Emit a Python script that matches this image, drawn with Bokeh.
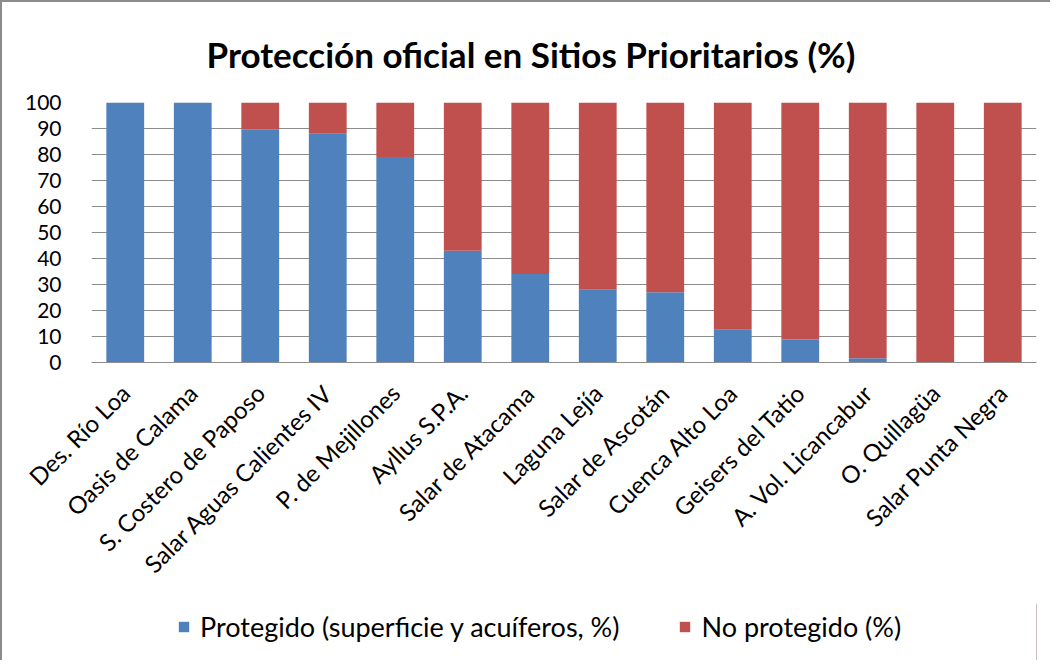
from bokeh.plotting import figure
from bokeh.layouts import column
from bokeh.models import Legend, LegendItem, FactorRange, Range1d, FixedTicker
from bokeh.embed import file_html
from bokeh.resources import INLINE
import math

sitios = ["Des. Río Loa", "Oasis de Calama", "S. Costero de Paposo", "Salar Aguas Calientes IV",
          "P. de Mejillones", "Ayllus S.P.A.", "Salar de Atacama", "Laguna Lejía",
          "Salar de Ascotán", "Cuenca Alto Loa", "Geisers del Tatio", "A. Vol. Licancabur",
          "O. Quillagüa", "Salar Punta Negra"]
protegido = [100, 100, 89.7, 88, 79, 43, 34, 28, 27, 12.6, 8.8, 1.6, 0, 0]
no_protegido = [round(100 - v, 1) for v in protegido]
series = ["Protegido (superficie y acuíferos, %)", "No protegido (%)"]
colors = ["#4F81BD", "#C0504D"]
y_ticks = list(range(0, 101, 10))

FONT = "Lato"

p = figure(x_range=FactorRange(factors=sitios, range_padding=0), y_range=Range1d(0, 100),
           width=1048, height=600, frame_width=945, frame_height=260,
           output_backend="svg", toolbar_location=None,
           min_border_left=89, min_border_right=14, min_border_top=99, min_border_bottom=241,
           title="Protección oficial en Sitios Prioritarios (%)")
p.outline_line_color = None

data = {"sitio": sitios, "prot": protegido, "noprot": no_protegido}
p.vbar_stack(["prot", "noprot"], x="sitio", width=0.56, source=data,
             color=colors, line_color=None)

p.title.align = "left"
p.title.offset = 115
p.title.standoff = 56
p.title.text_font = FONT
p.title.text_font_size = "35px"
p.title.text_font_style = "bold"
p.title.text_color = "black"

p.xgrid.grid_line_color = None
p.ygrid.grid_line_color = "#8c8c8c"
p.ygrid.grid_line_width = 1

p.yaxis.ticker = FixedTicker(ticks=y_ticks)
p.yaxis.axis_line_color = None
p.yaxis.major_tick_line_color = None
p.yaxis.minor_tick_line_color = None
p.yaxis.major_label_standoff = 24
p.yaxis.major_label_text_font = FONT
p.yaxis.major_label_text_font_size = "21px"
p.yaxis.major_label_text_color = "black"

p.xaxis.axis_line_color = "#8c8c8c"
p.xaxis.major_tick_line_color = None
p.xaxis.minor_tick_line_color = None
p.xaxis.major_label_orientation = math.pi / 4
p.xaxis.major_label_standoff = 20
p.xaxis.major_label_text_font = FONT
p.xaxis.major_label_text_font_size = "24px"
p.xaxis.major_label_text_color = "black"

# legend strip (its swatch renderers sit outside the visible range)
q = figure(width=1048, height=57, x_range=Range1d(0, 1), y_range=Range1d(0, 1),
           x_axis_type=None, y_axis_type=None, output_backend="svg", toolbar_location=None,
           min_border_left=0, min_border_right=0, min_border_top=0, min_border_bottom=0)
q.outline_line_color = None
q.xgrid.visible = False
q.ygrid.visible = False
r0 = q.vbar(x=[5], top=[1], width=0.5, color=colors[0], line_color=None)
r1 = q.vbar(x=[6], top=[1], width=0.5, color=colors[1], line_color=None)
legend = Legend(items=[LegendItem(label=series[0], renderers=[r0]),
                       LegendItem(label=series[1], renderers=[r1])],
                orientation="horizontal", location=(86, 17),
                glyph_width=13, glyph_height=13, label_standoff=10, spacing=59,
                padding=0, margin=0, border_line_color=None, background_fill_alpha=0,
                label_text_font=FONT, label_text_font_size="27px", label_text_color="black")
q.add_layout(legend, "center")

layout = column(p, q, spacing=0)
layout.styles = {"border-left": "2px solid #8c8c8c", "border-top": "2px solid #8c8c8c"}

open("out.html", "w").write(file_html(layout, INLINE))
